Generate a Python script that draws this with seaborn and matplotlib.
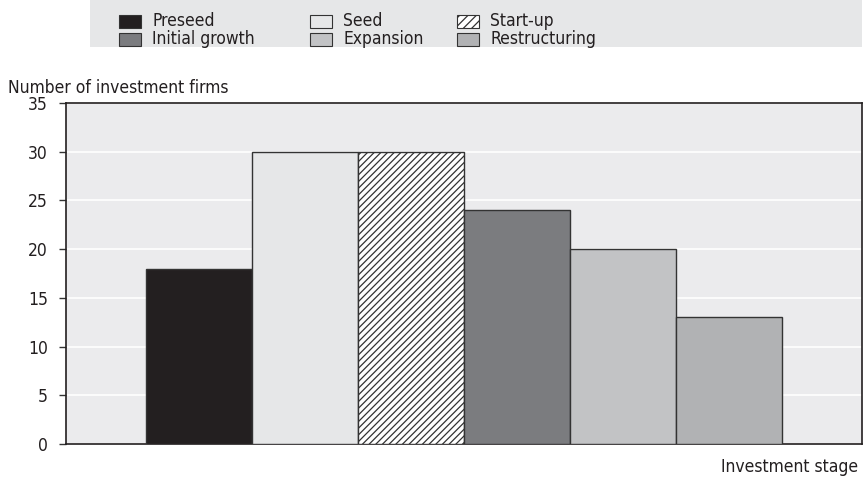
import matplotlib
matplotlib.use("Agg")
import matplotlib.pyplot as plt
from matplotlib.patches import Rectangle
import seaborn as sns

# Data
stages = ["Preseed", "Seed", "Start-up", "Initial growth", "Expansion", "Restructuring"]
firms = [18, 30, 30, 24, 20, 13]
colors = ["#231f20", "#e6e7e8", "#ffffff", "#7b7c7f", "#c2c3c5", "#b1b2b4"]
hatches = ["", "", "/////", "", "", ""]
yticks = [0, 5, 10, 15, 20, 25, 30, 35]

sns.set_theme(style="white")
plt.rcParams["font.family"] = ["DejaVu Sans"]
plt.rcParams["font.stretch"] = "condensed"
plt.rcParams["hatch.linewidth"] = 0.9

fig = plt.figure(figsize=(8.63, 4.78), dpi=100)
ax = fig.add_axes([66 / 863, 34 / 478, 796 / 863, 341 / 478])
ax.set_facecolor("#ebebed")

sns.barplot(x=stages, y=firms, hue=stages, palette=colors, saturation=1,
            width=1.0, edgecolor="#333333", linewidth=1.0, legend=False,
            ax=ax, zorder=3)
for bar, h in zip(ax.patches, hatches):
    bar.set_hatch(h)

ax.set_xlim(-1.25, 6.25)
ax.set_ylim(0, 35)
ax.set_yticks(yticks)
ax.set_xticks([])
ax.yaxis.grid(True, color="white", linewidth=1.2, zorder=0)
ax.set_axisbelow(True)
ax.tick_params(axis="y", left=True, length=5, width=1, color="#333333",
               labelsize=12.5, pad=8, labelcolor="#231f20")
for s in ax.spines.values():
    s.set_color("#231f20")
    s.set_linewidth(1.2)

fig.text(8 / 863, 1 - 88 / 478, "Number of investment firms", fontsize=12.5,
         color="#231f20", va="center", ha="left")
fig.text(858 / 863, 1 - 467 / 478, "Investment stage", fontsize=12.5,
         color="#231f20", va="center", ha="right")

# legend box
fig.patches.append(Rectangle((90 / 863, 1 - 47 / 478), 772 / 863, 47 / 478,
                             transform=fig.transFigure, facecolor="#e6e7e8",
                             edgecolor="none", zorder=0))
col_x = [119, 310, 457]
row_y = [21, 39]
order = [0, 3, 1, 4, 2, 5]
for k, i in enumerate(order):
    cx = col_x[k // 2]
    cy = row_y[k % 2]
    fig.patches.append(Rectangle((cx / 863, 1 - (cy + 7) / 478), 22 / 863, 13 / 478,
                                 transform=fig.transFigure, facecolor=colors[i],
                                 edgecolor="#333333", linewidth=0.8,
                                 hatch="////" if hatches[i] else "", zorder=2))
    fig.text((cx + 33) / 863, 1 - cy / 478, stages[i], fontsize=12.5,
             color="#231f20", va="center", ha="left")

fig.savefig("out.png", dpi=100)
